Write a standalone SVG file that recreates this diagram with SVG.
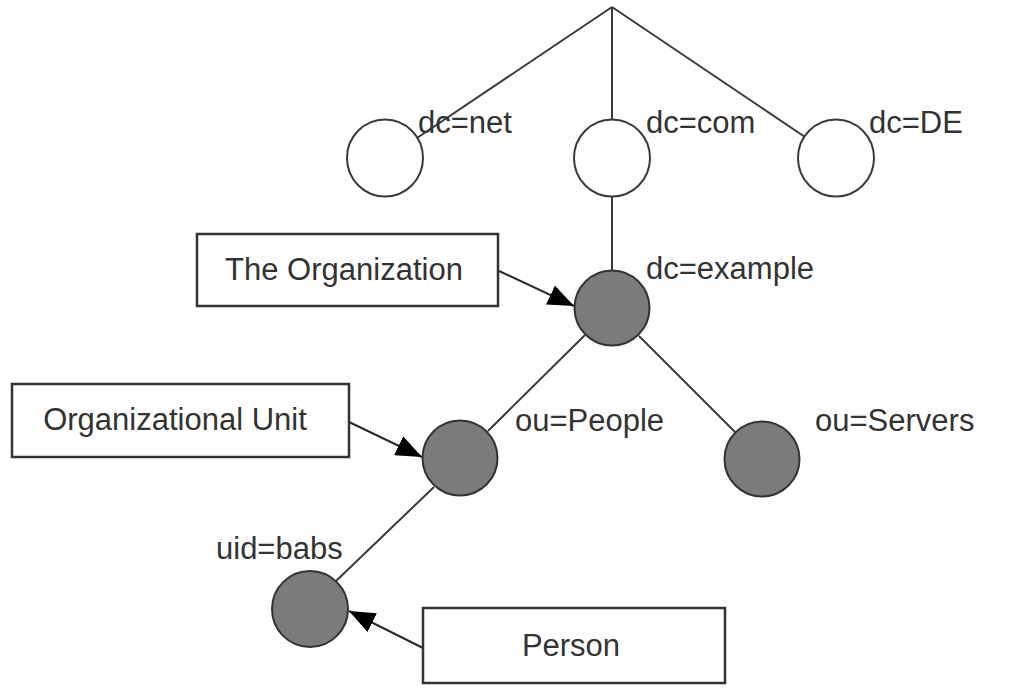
<svg xmlns="http://www.w3.org/2000/svg" width="1027" height="700" viewBox="0 0 1027 700">
<style>
.edge{stroke:#3a3a3a;stroke-width:2;fill:none}
.ptr{stroke:#2a2a2a;stroke-width:2;fill:none}
.top{fill:#fff;stroke:#3a3a3a;stroke-width:2}
.entry{fill:#7b7b7b;stroke:#333;stroke-width:2}
.box{fill:#fff;stroke:#333;stroke-width:2.5}
text{font-family:"Liberation Sans",Arial,sans-serif;font-size:31px;fill:#333}
</style>
<defs>
<marker id="ahb" viewBox="0 0 10 10" refX="10" refY="5" markerWidth="26" markerHeight="21" markerUnits="userSpaceOnUse" orient="auto" preserveAspectRatio="none">
<path d="M0,0 L10,5 L0,10 z" fill="#000"/>
</marker>
</defs>
<rect width="1027" height="700" fill="#fff"/>
<g id="connectors">
<line class="edge" x1="612" y1="7" x2="417" y2="138"/>
<line class="edge" x1="612" y1="7" x2="612" y2="120"/>
<line class="edge" x1="612" y1="7" x2="805" y2="137"/>
<line class="edge" x1="612" y1="196" x2="612" y2="270"/>
<line class="edge" x1="585" y1="335" x2="488" y2="431"/>
<line class="edge" x1="639" y1="336" x2="735" y2="432"/>
<line class="edge" x1="434" y1="487" x2="336" y2="581"/>
<line class="ptr" x1="499" y1="271" x2="574" y2="306" marker-end="url(#ahb)"/>
<line class="ptr" x1="349" y1="422" x2="422" y2="457" marker-end="url(#ahb)"/>
<line class="ptr" x1="423" y1="648" x2="349" y2="611" marker-end="url(#ahb)"/>
</g>
<g id="node-net">
<ellipse class="top" cx="385" cy="158" rx="38" ry="38.5"/>
<text x="418" y="133">dc=net</text>
</g>
<g id="node-com">
<ellipse class="top" cx="612" cy="158" rx="38" ry="38.5"/>
<text x="646" y="133">dc=com</text>
</g>
<g id="node-de">
<ellipse class="top" cx="836" cy="158" rx="38" ry="38.5"/>
<text x="869" y="133">dc=DE</text>
</g>
<g id="node-example">
<circle class="entry" cx="612" cy="308" r="37.5"/>
<text x="646" y="279">dc=example</text>
</g>
<g id="node-people">
<circle class="entry" cx="460" cy="458" r="37.5"/>
<text x="515" y="431">ou=People</text>
</g>
<g id="node-servers">
<circle class="entry" cx="762" cy="459" r="37.5"/>
<text x="815" y="431">ou=Servers</text>
</g>
<g id="node-babs">
<circle class="entry" cx="310" cy="609" r="38"/>
<text x="216" y="559">uid=babs</text>
</g>
<g id="label-organization">
<rect class="box" x="197" y="234" width="301" height="72"/>
<text x="344" y="280" text-anchor="middle">The Organization</text>
</g>
<g id="label-unit">
<rect class="box" x="12" y="384" width="337" height="73"/>
<text x="175" y="430" text-anchor="middle">Organizational Unit</text>
</g>
<g id="label-person">
<rect class="box" x="423" y="608" width="302" height="75"/>
<text x="571" y="656" text-anchor="middle">Person</text>
</g>
</svg>
